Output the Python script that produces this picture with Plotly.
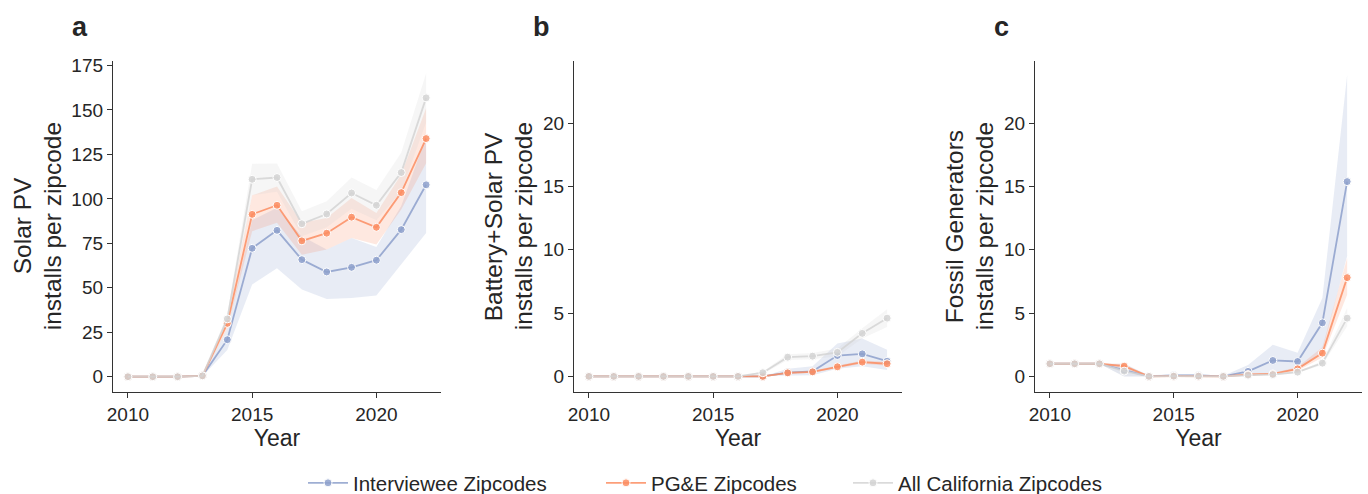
import plotly.graph_objects as go

years = list(range(2010, 2023))
series_names = ["Interviewee Zipcodes", "PG&E Zipcodes", "All California Zipcodes"]

# Panel a: Solar PV
solar_mean = {
    "Interviewee Zipcodes": [0, 0, 0, 0.5, 20.8, 72.2, 82.3, 65.8, 58.9, 61.5, 65.5, 82.7, 107.9],
    "PG&E Zipcodes": [0, 0, 0, 0.5, 30.0, 91.3, 96.4, 76.4, 80.7, 89.7, 84.0, 103.5, 133.9],
    "All California Zipcodes": [0, 0, 0, 0.5, 32.5, 111.0, 112.0, 86.0, 91.5, 103.3, 96.4, 114.8, 156.8],
}
solar_lo = {
    "Interviewee Zipcodes": [0, 0, 0, 0.2, 15.0, 51.8, 61.0, 49.0, 43.7, 44.3, 45.6, 63.0, 80.8],
    "PG&E Zipcodes": [0, 0, 0, 0.3, 27.0, 81.8, 86.5, 68.6, 71.5, 78.0, 74.3, 94.0, 120.0],
    "All California Zipcodes": [0, 0, 0, 0.3, 30.0, 102.0, 104.0, 79.0, 84.0, 94.5, 88.0, 104.0, 143.0],
}
solar_hi = {
    "Interviewee Zipcodes": [0, 0, 0, 0.9, 27.0, 88.0, 95.0, 79.0, 71.5, 78.0, 73.0, 96.0, 135.0],
    "PG&E Zipcodes": [0, 0, 0, 0.7, 33.0, 102.0, 107.0, 86.5, 89.3, 100.5, 92.0, 113.7, 151.0],
    "All California Zipcodes": [0, 0, 0, 0.7, 35.0, 119.7, 119.9, 93.0, 98.7, 112.0, 105.0, 125.9, 170.5],
}

# Panel b: Battery+Solar PV
batt_mean = {
    "Interviewee Zipcodes": [0, 0, 0, 0, 0, 0, 0, 0, 0.3, 0.4, 1.65, 1.78, 1.2],
    "PG&E Zipcodes": [0, 0, 0, 0, 0, 0, 0, 0, 0.28, 0.36, 0.76, 1.13, 1.0],
    "All California Zipcodes": [0, 0, 0, 0, 0, 0, 0, 0.29, 1.52, 1.6, 1.9, 3.4, 4.6],
}
batt_lo = {
    "Interviewee Zipcodes": [0, 0, 0, 0, 0, 0, 0, 0, 0.05, 0.1, 0.6, 0.8, 0.5],
    "PG&E Zipcodes": [0, 0, 0, 0, 0, 0, 0, 0, 0.2, 0.28, 0.66, 1.0, 0.85],
    "All California Zipcodes": [0, 0, 0, 0, 0, 0, 0, 0.2, 1.3, 1.35, 1.6, 3.0, 3.9],
}
batt_hi = {
    "Interviewee Zipcodes": [0, 0, 0, 0, 0, 0, 0, 0, 0.6, 0.8, 2.6, 3.0, 2.1],
    "PG&E Zipcodes": [0, 0, 0, 0, 0, 0, 0, 0, 0.36, 0.44, 0.86, 1.26, 1.15],
    "All California Zipcodes": [0, 0, 0, 0, 0, 0, 0, 0.38, 1.75, 1.85, 2.2, 3.8, 5.3],
}

# Panel c: Fossil Generators
fossil_mean = {
    "Interviewee Zipcodes": [1, 1, 1, 0.5, 0, 0.08, 0.08, 0, 0.4, 1.26, 1.18, 4.23, 15.38],
    "PG&E Zipcodes": [1, 1, 1, 0.81, 0, 0.02, 0.02, 0, 0.15, 0.2, 0.6, 1.84, 7.8],
    "All California Zipcodes": [1, 1, 1, 0.42, 0, 0.02, 0.02, 0, 0.1, 0.15, 0.34, 1.05, 4.6],
}
fossil_lo = {
    "Interviewee Zipcodes": [1, 1, 1, 0.0, 0, 0, 0, 0, 0, 0.3, 0.5, 2.0, 9.5],
    "PG&E Zipcodes": [1, 1, 1, 0.6, 0, 0, 0, 0, 0.1, 0.14, 0.45, 1.5, 6.45],
    "All California Zipcodes": [1, 1, 1, 0.0, 0, 0, 0, 0, 0.07, 0.11, 0.28, 0.9, 3.96],
}
fossil_hi = {
    "Interviewee Zipcodes": [1, 1, 1, 1.0, 0.1, 0.18, 0.18, 0.05, 0.9, 2.5, 1.87, 6.2, 23.8],
    "PG&E Zipcodes": [1, 1, 1, 1.0, 0, 0.05, 0.05, 0, 0.2, 0.27, 0.75, 2.3, 9.35],
    "All California Zipcodes": [1, 1, 1, 0.8, 0, 0.04, 0.04, 0, 0.13, 0.2, 0.4, 1.2, 5.4],
}

panel_letters = ["a", "b", "c"]
y_title_lines = [["Solar PV", "installs per zipcode"],
                 ["Battery+Solar PV", "installs per zipcode"],
                 ["Fossil Generators", "installs per zipcode"]]
x_title = "Year"
x_ticks = [2010, 2015, 2020]
y_ticks_a = [0, 25, 50, 75, 100, 125, 150, 175]
y_ticks_bc = [0, 5, 10, 15, 20]

rgb = {
    "Interviewee Zipcodes": (141, 160, 203),
    "PG&E Zipcodes": (252, 141, 98),
    "All California Zipcodes": (211, 211, 211),
}
legend_ids = {"Interviewee Zipcodes": "legend", "PG&E Zipcodes": "legend2",
              "All California Zipcodes": "legend3"}
legend_text_x = {"Interviewee Zipcodes": 353, "PG&E Zipcodes": 651,
                 "All California Zipcodes": 898}

FONT = "Liberation Sans, Arial, sans-serif"
TXT = "#262626"
AX = "#333333"
W, H = 1368, 494

fig = go.Figure()
panels = [(solar_mean, solar_lo, solar_hi), (batt_mean, batt_lo, batt_hi), (fossil_mean, fossil_lo, fossil_hi)]
for i, (mean, lo, hi) in enumerate(panels):
    xa = "x" if i == 0 else f"x{i+1}"
    ya = "y" if i == 0 else f"y{i+1}"
    for name in series_names:
        r, g, b = rgb[name]
        fig.add_trace(go.Scatter(
            x=years + years[::-1], y=hi[name] + lo[name][::-1],
            fill="toself", fillcolor=f"rgba({r},{g},{b},0.2)",
            line=dict(width=0), mode="lines", hoverinfo="skip",
            showlegend=False, xaxis=xa, yaxis=ya))
    for name in series_names:
        r, g, b = rgb[name]
        fig.add_trace(go.Scatter(
            x=years, y=mean[name], mode="lines+markers", name=name,
            line=dict(color=f"rgba({r},{g},{b},0.85)", width=1.8),
            marker=dict(color=f"rgba({r},{g},{b},0.85)", size=8,
                        line=dict(color="white", width=1)),
            showlegend=(i == 0), legend=legend_ids[name],
            xaxis=xa, yaxis=ya))

x_axis_px = [113, 574, 1035]
x_domains = [[113/W, 441/W], [574/W, 902/W], [1035/W, 1362/W]]
y_top_px, y_bot_px = 60.5, 392
y_domain = [1 - y_bot_px/H, 1 - y_top_px/H]

common_x = dict(showline=True, linecolor=AX, linewidth=1.3, ticks="outside",
                ticklen=5, tickwidth=1.3, tickcolor=AX, showgrid=False, zeroline=False,
                automargin=False,
                tickfont=dict(size=19, color=TXT, family=FONT),
                range=[2009.4, 2022.6], tickvals=x_ticks,
                title=dict(text=x_title, font=dict(size=23, color=TXT, family=FONT), standoff=2))
common_y = dict(showline=True, linecolor=AX, linewidth=1.3, ticks="outside",
                ticklen=5, tickwidth=1.3, tickcolor=AX, showgrid=False, zeroline=False,
                automargin=False,
                tickfont=dict(size=19, color=TXT, family=FONT))

layout = dict(
    template="none",
    width=W, height=H, margin=dict(l=0, r=0, t=0, b=0, pad=0, autoexpand=False),
    plot_bgcolor="white", paper_bgcolor="white",
    font=dict(family=FONT, color=TXT),
    annotations=[],
)
for name in series_names:
    layout[legend_ids[name]] = dict(
        orientation="h", x=(legend_text_x[name] - 50) / W, xanchor="left",
        y=1 - 483 / H, yanchor="middle", bgcolor="rgba(0,0,0,0)",
        font=dict(size=20.5, color=TXT, family=FONT), itemwidth=40)

for i in range(3):
    k = "" if i == 0 else str(i + 1)
    xa = dict(common_x, domain=x_domains[i], anchor="y" + k)
    ya = dict(common_y, domain=y_domain, anchor="x" + k)
    if i == 0:
        ya.update(range=[-8.6, 177.8], tickvals=y_ticks_a)
    else:
        ya.update(range=[-1.23, 24.94], tickvals=y_ticks_bc)
    layout["xaxis" + k] = xa
    layout["yaxis" + k] = ya

# y-axis titles (two lines each), placed left of the tick labels
title_offsets = [(91, 61), (81, 51), (81, 51)]
y_mid = 1 - (y_top_px + y_bot_px) / 2 / H
for i, lines in enumerate(y_title_lines):
    for j, line in enumerate(lines):
        layout["annotations"].append(dict(
            text=line, x=(x_axis_px[i] - title_offsets[i][j]) / W, y=y_mid,
            xref="paper", yref="paper", xanchor="center", yanchor="middle",
            textangle=-90, showarrow=False,
            font=dict(size=24.5, color=TXT, family=FONT)))

letter_x = [80, 541, 1002]
for i, L in enumerate(panel_letters):
    layout["annotations"].append(dict(
        text=f"<b>{L}</b>", x=letter_x[i] / W, y=1 - 27 / H, xref="paper", yref="paper",
        xanchor="center", yanchor="middle", showarrow=False,
        font=dict(size=27, color=TXT, family=FONT)))

fig.update_layout(**layout)
fig.write_html("out.html")
